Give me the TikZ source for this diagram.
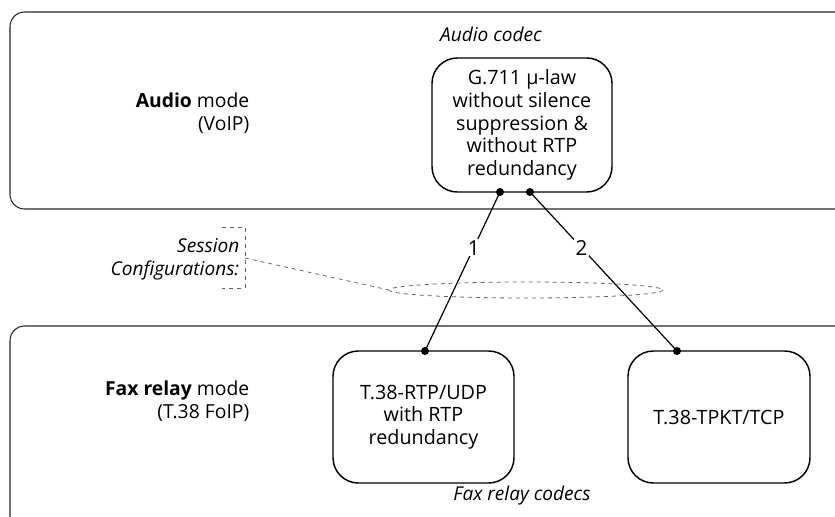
\documentclass[tikz,border=0pt]{standalone}
\usepackage{fontspec}
\setmainfont{Open Sans}
\begin{document}
\begin{tikzpicture}[x=0.75pt,y=-0.75pt,
  panel/.style={draw=black!85,line width=0.8pt,rounded corners=11pt},
  codec/.style={draw=black,line width=1.1pt,rounded corners=19pt,align=center,inner sep=1pt,font=\fontsize{14.8}{17}\selectfont},
  lbl/.style={font=\fontsize{14.5}{17}\selectfont,align=right,anchor=east},
  ital/.style={font=\fontsize{14.3}{17}\selectfont\itshape},
  conn/.style={draw=black,line width=0.9pt},
  dotend/.style={circle,fill=black,inner sep=0pt,minimum size=6pt},
  num/.style={fill=white,inner sep=1pt,font=\fontsize{15.5}{17}\selectfont},
  dsh/.style={draw=black!60,dashed,line width=0.6pt}]
\useasboundingbox (0,0) rectangle (835,517);
\clip (0,0) rectangle (835,517);
% panels
\draw[panel] (10,12) rectangle (860,209);
\draw[panel] (10,326) rectangle (860,540);
% mode labels
\node[lbl] (audiomode) at (254,113) {\textbf{Audio} mode\\(VoIP)};
\node[lbl] (faxmode) at (254,401) {\textbf{Fax relay} mode\\(T.38 FoIP)};
\node[ital] (audiocodec) at (491,34) {Audio codec};
\node[ital] (faxcodecs) at (522,496) {Fax relay codecs};
% codec boxes
\node[codec,minimum width=135pt,minimum height=100.5pt] (g711) at (522,125) {G.711 µ-law\\without silence\\suppression \&\\without RTP\\redundancy};
\node[codec,minimum width=135.75pt,minimum height=99pt] (rtp) at (423.5,417) {T.38-RTP/UDP\\with RTP\\redundancy};
\node[codec,minimum width=136.5pt,minimum height=99pt] (tpkt) at (719,417) {T.38-TPKT/TCP};
% connection points
\node[dotend] (d1) at (500,192) {};
\node[dotend] (d2) at (530,192) {};
\node[dotend] (e1) at (425,351) {};
\node[dotend] (e2) at (677,351) {};
\draw[conn] (d1.center) -- node[num,pos=0.35] (n1) {1} (e1.center);
\draw[conn] (d2.center) -- node[num,pos=0.35] (n2) {2} (e2.center);
% session configurations
\node[ital,align=right,anchor=east] (sess) at (244,259) {Session\\Configurations:};
\draw[dsh] (222,227) -- (245,227) -- (245,288) -- (222,288);
\coordinate (bk) at (245,258);
\draw[dsh] (526,290) ellipse [x radius=137, y radius=8];
\coordinate (el) at (389,290);
\draw[dsh] (bk) -- (el);
\end{tikzpicture}
\end{document}
